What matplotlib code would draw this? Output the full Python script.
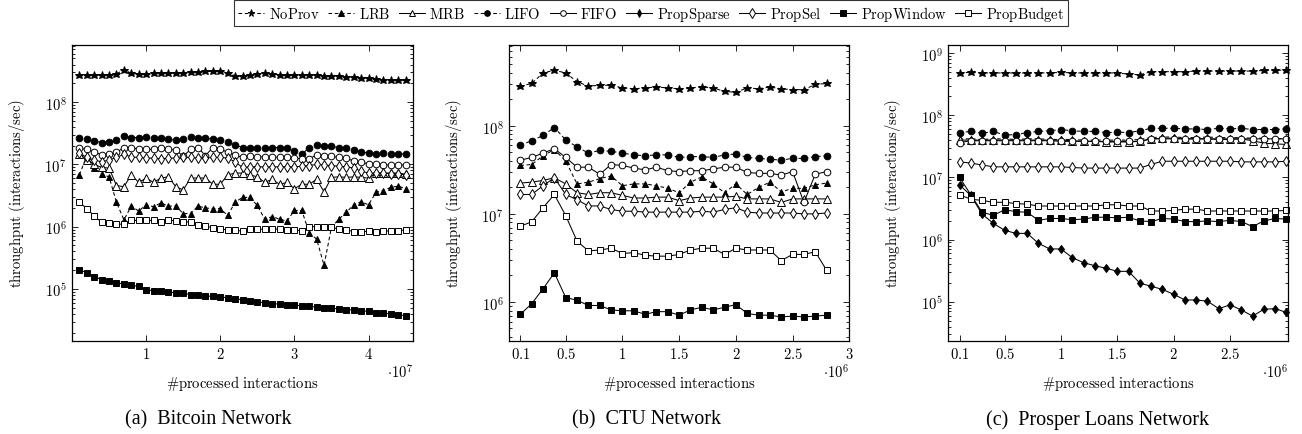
import numpy as np
import matplotlib
matplotlib.use("Agg")
import matplotlib.pyplot as plt
from matplotlib.ticker import LogLocator, NullFormatter, FixedLocator, FixedFormatter

plt.rcParams['mathtext.fontset'] = 'cm'
plt.rcParams['font.family'] = ['DejaVu Serif']

# ---------------- data (log10 of throughput) ----------------
series_names = ["NoProv", "LRB", "MRB", "LIFO", "FIFO", "PropSparse", "PropSel", "PropWindow", "PropBudget"]

# (a) Bitcoin Network: x = 1e6 .. 4.5e7
btc_x = np.arange(1, 46) * 1e6
btc_noprov = [8.43,8.43,8.43,8.43,8.43,8.45,8.52,8.46,8.45,8.45,8.46,8.46,8.46,8.47,8.47,8.48,8.48,8.49,8.49,8.50,
              8.47,8.42,8.41,8.43,8.45,8.47,8.45,8.44,8.44,8.43,8.43,8.43,8.43,8.42,8.42,8.41,8.40,8.40,8.39,8.38,
              8.37,8.36,8.36,8.35,8.35]
btc_lrb = [6.83,7.14,6.94,6.84,6.80,6.39,6.11,6.33,6.25,6.35,6.32,6.38,6.33,6.33,6.21,6.21,6.33,6.30,6.29,6.29,
           6.18,6.39,6.47,6.47,6.34,6.12,6.16,6.12,6.09,6.26,6.26,5.90,5.80,5.38,5.99,6.12,6.23,6.35,6.40,6.35,
           6.55,6.58,6.63,6.65,6.61]
btc_mrb = [7.17,7.07,7.00,6.95,6.94,6.66,6.64,6.83,6.71,6.78,6.71,6.78,6.80,6.64,6.59,6.78,6.78,6.78,6.68,6.68,
           6.83,6.86,6.86,6.83,6.80,6.71,6.76,6.68,6.71,6.61,6.68,6.68,6.76,6.56,6.79,6.80,6.79,6.80,6.79,6.78,
           6.86,6.86,6.86,6.86,6.84]
btc_lifo = [7.43,7.40,7.375,7.35,7.36,7.39,7.455,7.43,7.43,7.44,7.43,7.42,7.40,7.39,7.40,7.44,7.43,7.42,7.41,7.385,
            7.36,7.31,7.27,7.27,7.27,7.27,7.27,7.27,7.27,7.21,7.16,7.27,7.31,7.30,7.29,7.27,7.26,7.23,7.20,7.18,
            7.16,7.18,7.16,7.16,7.17]
btc_fifo = [7.26,7.24,7.20,7.15,7.16,7.19,7.27,7.26,7.25,7.24,7.24,7.26,7.24,7.23,7.13,7.24,7.27,7.14,7.27,7.25,
            7.19,7.15,7.11,7.14,7.12,7.12,7.12,7.11,7.11,7.10,7.09,7.09,7.15,7.14,7.13,7.11,7.10,7.05,7.03,7.01,
            7.00,6.99,6.99,6.99,6.99]
btc_propsel = [7.18,7.11,7.07,7.04,7.07,7.11,7.16,7.12,7.11,7.10,7.10,7.09,7.10,7.10,7.11,7.11,7.10,7.10,7.11,7.11,
               7.10,7.04,6.95,6.96,6.96,6.96,6.96,6.96,6.96,6.96,6.97,6.98,7.00,6.99,6.98,6.97,6.96,6.94,6.89,6.86,
               6.86,6.86,6.85,6.85,6.83]
btc_propwindow = [5.31,5.26,5.20,5.15,5.12,5.10,5.08,5.06,5.04,4.99,4.97,4.96,4.95,4.94,4.93,4.91,4.90,4.89,4.88,4.87,
                  4.86,4.84,4.83,4.81,4.79,4.78,4.76,4.76,4.75,4.74,4.73,4.72,4.71,4.70,4.69,4.68,4.67,4.66,4.65,4.64,
                  4.62,4.61,4.60,4.59,4.57]
btc_propbudget = [6.39,6.29,6.17,6.07,6.06,6.04,6.04,6.10,6.10,6.10,6.10,6.08,6.11,6.09,6.07,6.08,6.03,6.01,5.98,5.96,
                  5.95,5.94,5.93,5.96,5.96,5.96,5.96,5.96,5.95,5.95,5.93,6.00,6.00,6.00,5.99,5.96,5.95,5.92,5.91,5.93,
                  5.91,5.93,5.93,5.93,5.95]

# (b) CTU Network: x = 1e5 .. 2.8e6
ctu_x = np.arange(1, 29) * 1e5
ctu_noprov = [8.45,8.48,8.60,8.63,8.60,8.50,8.45,8.46,8.46,8.43,8.42,8.43,8.44,8.43,8.42,8.43,8.44,8.43,8.39,8.38,
              8.43,8.42,8.44,8.42,8.41,8.41,8.47,8.48]
ctu_lrb = [7.55,7.56,7.66,7.73,7.60,7.34,7.36,7.40,7.43,7.32,7.34,7.34,7.32,7.29,7.24,7.36,7.42,7.34,7.24,7.34,
           7.22,7.30,7.36,7.25,7.29,7.29,7.33,7.35]
ctu_mrb = [7.35,7.36,7.38,7.41,7.34,7.24,7.22,7.24,7.24,7.21,7.18,7.18,7.19,7.19,7.15,7.18,7.19,7.19,7.19,7.20,
           7.17,7.17,7.17,7.13,7.17,7.17,7.17,7.17]
ctu_lifo = [7.78,7.83,7.89,7.98,7.84,7.76,7.69,7.72,7.71,7.69,7.67,7.66,7.67,7.67,7.64,7.65,7.65,7.64,7.67,7.68,
            7.64,7.63,7.62,7.61,7.63,7.63,7.65,7.66]
ctu_fifo = [7.61,7.64,7.69,7.74,7.64,7.53,7.53,7.45,7.56,7.55,7.52,7.50,7.53,7.49,7.48,7.49,7.49,7.51,7.53,7.53,
            7.47,7.46,7.46,7.44,7.48,7.13,7.45,7.48]
ctu_propsel = [7.22,7.22,7.32,7.41,7.22,7.16,7.09,7.09,7.05,7.03,7.03,7.02,7.02,7.02,7.02,7.02,7.03,7.02,7.05,7.07,
               7.02,7.01,7.01,7.01,7.01,7.00,7.00,7.01]
ctu_propwindow = [5.86,5.98,6.15,6.33,6.05,6.02,5.96,5.96,5.91,5.90,5.90,5.86,5.89,5.89,5.85,5.91,5.94,5.91,5.94,5.97,
                  5.87,5.85,5.85,5.83,5.84,5.83,5.84,5.85]
ctu_propbudget = [6.86,6.91,7.07,7.22,6.98,6.69,6.58,6.59,6.61,6.55,6.56,6.53,6.52,6.52,6.54,6.59,6.61,6.61,6.54,6.61,
                  6.59,6.59,6.59,6.47,6.54,6.54,6.57,6.36]

# (c) Prosper Loans Network: x = 1e5 .. 3.0e6
pl_x = np.arange(1, 31) * 1e5
pl_noprov = [8.68,8.69,8.68,8.68,8.68,8.68,8.68,8.68,8.68,8.69,8.68,8.68,8.68,8.68,8.68,8.66,8.65,8.70,8.70,8.70,
             8.70,8.71,8.71,8.71,8.71,8.71,8.71,8.72,8.72,8.73]
pl_lrb = [7.62,7.62,7.61,7.62,7.62,7.61,7.62,7.62,7.61,7.61,7.61,7.60,7.60,7.60,7.60,7.60,7.61,7.64,7.65,7.65,
          7.64,7.64,7.65,7.64,7.64,7.64,7.63,7.63,7.62,7.63]
pl_mrb = [7.60,7.60,7.60,7.60,7.60,7.60,7.60,7.60,7.60,7.60,7.59,7.58,7.58,7.57,7.57,7.57,7.58,7.62,7.63,7.63,
          7.62,7.62,7.62,7.61,7.61,7.62,7.59,7.55,7.54,7.53]
pl_lifo = [7.72,7.74,7.71,7.74,7.68,7.69,7.72,7.74,7.75,7.77,7.75,7.74,7.74,7.72,7.73,7.72,7.75,7.79,7.79,7.79,
           7.78,7.78,7.77,7.79,7.78,7.79,7.77,7.77,7.77,7.78]
pl_fifo = [7.56,7.59,7.59,7.59,7.59,7.59,7.59,7.59,7.59,7.58,7.58,7.58,7.58,7.58,7.58,7.58,7.58,7.62,7.62,7.62,
           7.62,7.62,7.62,7.62,7.62,7.62,7.62,7.62,7.62,7.62]
pl_propsparse = [6.88,6.71,6.41,6.26,6.15,6.10,6.10,5.94,5.85,5.85,5.71,5.63,5.58,5.54,5.49,5.49,5.30,5.25,5.20,5.12,
                 5.03,5.03,5.01,4.89,4.95,4.87,4.77,4.88,4.89,4.83]
pl_propsel = [7.25,7.23,7.20,7.17,7.17,7.17,7.17,7.17,7.17,7.17,7.16,7.15,7.15,7.15,7.15,7.15,7.15,7.21,7.26,7.26,
              7.26,7.26,7.26,7.26,7.26,7.25,7.25,7.25,7.25,7.26]
pl_propwindow = [7.00,6.72,6.44,6.39,6.48,6.45,6.44,6.31,6.34,6.34,6.32,6.33,6.36,6.36,6.35,6.36,6.30,6.29,6.34,6.33,
                 6.29,6.29,6.30,6.29,6.31,6.29,6.21,6.30,6.34,6.33]
pl_propbudget = [6.72,6.65,6.63,6.60,6.60,6.58,6.57,6.54,6.54,6.54,6.54,6.54,6.54,6.56,6.56,6.54,6.54,6.46,6.46,6.47,
                 6.49,6.49,6.46,6.46,6.46,6.46,6.46,6.46,6.46,6.47]

btc_xticks = [1e7, 2e7, 3e7, 4e7]
btc_xticklabels = ["1", "2", "3", "4"]
ctu_xticks = [1e5, 5e5, 1e6, 1.5e6, 2e6, 2.5e6, 3e6]
ctu_xticklabels = ["0.1", "0.5", "1", "1.5", "2", "2.5", "3"]
pl_xticks = [1e5, 5e5, 1e6, 1.5e6, 2e6, 2.5e6]
pl_xticklabels = ["0.1", "0.5", "1", "1.5", "2", "2.5"]
captions = ["(a)  Bitcoin Network", "(b)  CTU Network", "(c)  Prosper Loans Network"]

# ---------------- styles ----------------
DASH = (0, (3.5, 2.5))
styles = {
    "NoProv":     dict(marker='*', mfc='black', ls=DASH, ms=6.2),
    "LRB":        dict(marker='^', mfc='black', ls=DASH, ms=4.8),
    "MRB":        dict(marker='^', mfc='white', ls='-', ms=5.4),
    "LIFO":       dict(marker='o', mfc='black', ls=DASH, ms=4.8),
    "FIFO":       dict(marker='o', mfc='white', ls='-', ms=4.8),
    "PropSparse": dict(marker='d', mfc='black', ls='-', ms=4.4),
    "PropSel":    dict(marker='d', mfc='white', ls='-', ms=5.6),
    "PropWindow": dict(marker='s', mfc='black', ls='-', ms=4.4),
    "PropBudget": dict(marker='s', mfc='white', ls='-', ms=4.4),
}

W, H = 1302, 435
fig = plt.figure(figsize=(W / 100, H / 100), dpi=100)

def ax_rect(l, r, t, b):
    return [l / W, 1 - b / H, (r - l) / W, (b - t) / H]

panels = [
    dict(rect=ax_rect(72, 413, 46, 342), x=btc_x, xlim=(0, 4.6e7), ylim=(10**4.165, 10**8.915),
         xticks=btc_xticks, xtl=btc_xticklabels, mult=r"$\cdot 10^{7}$", yt=[1e5, 1e6, 1e7, 1e8],
         data={"NoProv": btc_noprov, "LRB": btc_lrb, "MRB": btc_mrb, "LIFO": btc_lifo, "FIFO": btc_fifo,
               "PropSel": btc_propsel, "PropWindow": btc_propwindow, "PropBudget": btc_propbudget},
         cap_x=208),
    dict(rect=ax_rect(509, 849.3, 46, 342), x=ctu_x, xlim=(0, 3.0e6), ylim=(10**5.557, 10**8.917),
         xticks=ctu_xticks, xtl=ctu_xticklabels, mult=r"$\cdot 10^{6}$", yt=[1e6, 1e7, 1e8],
         data={"NoProv": ctu_noprov, "LRB": ctu_lrb, "MRB": ctu_mrb, "LIFO": ctu_lifo, "FIFO": ctu_fifo,
               "PropSel": ctu_propsel, "PropWindow": ctu_propwindow, "PropBudget": ctu_propbudget},
         cap_x=647),
    dict(rect=ax_rect(948.3, 1288.3, 46, 342), x=pl_x, xlim=(0, 3.017e6), ylim=(10**4.37, 10**9.129),
         xticks=pl_xticks, xtl=pl_xticklabels, mult=r"$\cdot 10^{6}$", yt=[1e5, 1e6, 1e7, 1e8, 1e9],
         data={"NoProv": pl_noprov, "LRB": pl_lrb, "MRB": pl_mrb, "LIFO": pl_lifo, "FIFO": pl_fifo,
               "PropSparse": pl_propsparse, "PropSel": pl_propsel, "PropWindow": pl_propwindow,
               "PropBudget": pl_propbudget},
         cap_x=1097),
]

FS = 10.5
handles = {}
for p in panels:
    ax = fig.add_axes(p["rect"])
    for name in series_names:
        if name not in p["data"]:
            continue
        st = styles[name]
        y = 10 ** np.asarray(p["data"][name], dtype=float)
        ln, = ax.plot(p["x"], y, color='black', lw=0.75, linestyle=st["ls"], marker=st["marker"],
                      markersize=st["ms"], markerfacecolor=st["mfc"], markeredgecolor='black',
                      markeredgewidth=0.7, label=r"$\mathrm{%s}$" % name, clip_on=False)
        handles[name] = ln
    ax.set_yscale('log')
    ax.set_xlim(*p["xlim"])
    ax.set_ylim(*p["ylim"])
    ax.xaxis.set_major_locator(FixedLocator(p["xticks"]))
    ax.xaxis.set_major_formatter(FixedFormatter([r"$%s$" % s for s in p["xtl"]]))
    ax.xaxis.set_minor_locator(FixedLocator([]))
    ax.yaxis.set_major_locator(FixedLocator(p["yt"]))
    ax.yaxis.set_major_formatter(FixedFormatter([r"$10^{%d}$" % int(round(np.log10(v))) for v in p["yt"]]))
    ax.yaxis.set_minor_locator(LogLocator(base=10, subs=np.arange(2, 10), numticks=20))
    ax.yaxis.set_minor_formatter(NullFormatter())
    ax.tick_params(which='both', direction='in', top=True, right=True, labelsize=FS, width=0.6)
    ax.tick_params(which='major', length=4.5, pad=4)
    ax.tick_params(axis='x', which='major', pad=3.5)
    ax.tick_params(which='minor', length=2.5)
    for s in ax.spines.values():
        s.set_linewidth(0.9)
    ax.set_xlabel(r"$\#\mathrm{processed\ interactions}$", fontsize=FS)
    ax.xaxis.set_label_coords(0.5, -42 / 296)
    ax.xaxis.label.set_va('center')
    ax.set_ylabel(r"$\mathrm{throughput\ (interactions/sec)}$", fontsize=FS)
    ax.yaxis.set_label_coords(-55 / 341, 0.5)
    ax.yaxis.label.set_va('center')
    ax.text(1.0, -29.5 / 296, p["mult"], transform=ax.transAxes, ha='right', va='center', fontsize=FS)

for p, cap in zip(panels, captions):
    fig.text(p["cap_x"] / W, 1 - 420 / H, cap, ha='center', va='center', fontsize=14.5,
             family='Liberation Serif')

leg = fig.legend([handles[n] for n in series_names], [r"$\mathrm{%s}$" % n for n in series_names],
                 loc='upper center', bbox_to_anchor=(651 / W, 1 - 1 / H), ncol=9, fontsize=FS,
                 frameon=True, fancybox=False, edgecolor='black', handlelength=1.8, handletextpad=0.3,
                 columnspacing=0.6, borderpad=0.25, borderaxespad=0.0, markerscale=0.85)
leg.get_frame().set_linewidth(0.8)

fig.savefig("out.png", dpi=100)
